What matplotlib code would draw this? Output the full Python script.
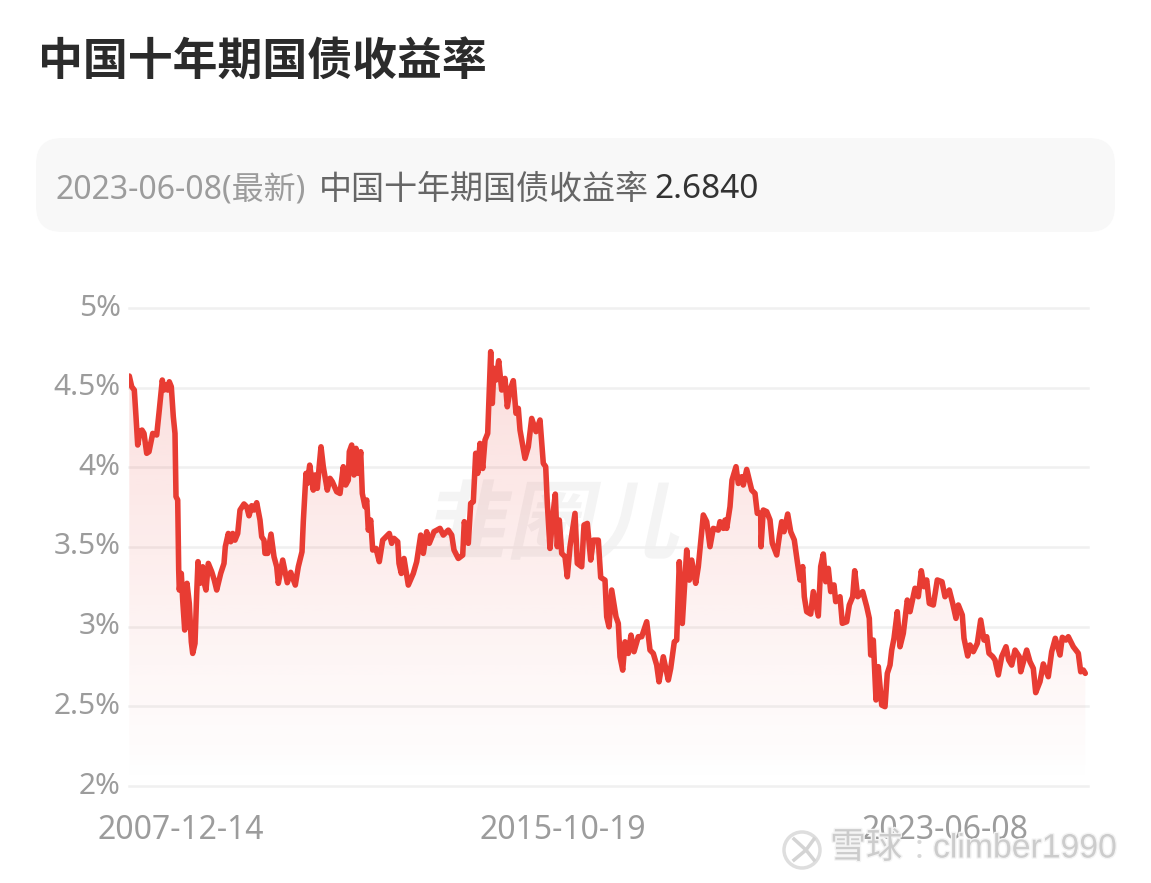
#!/usr/bin/env python

import numpy as np
import matplotlib
matplotlib.use('Agg')
import matplotlib.pyplot as plt
import matplotlib.patheffects as pe
from matplotlib.font_manager import FontProperties
from matplotlib.patches import Circle, FancyBboxPatch, PathPatch
from matplotlib.textpath import TextPath
from matplotlib.transforms import Affine2D

plt.rcParams['font.family'] = ['Noto Sans', 'Noto Sans CJK SC', 'DejaVu Sans']

W, H = 1151, 883

title = '中国十年期国债收益率'
latest_date = '2023-06-08(最新)'
latest_value = '2.6840'
y_ticks = [2, 2.5, 3, 3.5, 4, 4.5, 5]
y_labels = ['2%', '2.5%', '3%', '3.5%', '4%', '4.5%', '5%']
x_ticks = [52, 434, 816]
x_labels = ['2007-12-14', '2015-10-19', '2023-06-08']

# position along the axis and yield
obs = [0.3, 2.7, 5.3, 7, 8.7, 11, 13, 15, 17.7, 20, 23.7, 27.7, 30.3, 33.3, 35, 37, 38.7, 40.3, 42.3, 44.3,
       46, 47, 48.7, 49.7, 50.3, 52.3, 53.7, 55.7, 58, 60.3, 62.3, 63.7, 66, 67.7, 69, 71, 73.7, 75.3, 77, 79.3,
       82.7, 85.3, 87.7, 91.7, 95, 96.3, 99.3, 101.7, 103.7, 106, 108.7, 111, 115, 117.7, 120, 122.7, 125, 127.7, 131, 132.7,
       135, 136, 138.7, 142, 145, 147.7, 149.3, 153.7, 158.3, 161.7, 166.3, 169.3, 173, 174.3, 177, 178.3, 180.7, 184.3, 186, 188.3,
       190.3, 192, 194.3, 198.3, 201, 203.3, 207.7, 211, 214.3, 216.7, 219.3, 220.3, 222.7, 225, 227, 229.3, 231.7, 233.3, 236, 237.7,
       239.3, 241.7, 243.7, 247, 250.3, 253.7, 260.3, 262.7, 265, 268.7, 270, 272.3, 275, 279.3, 284.3, 287.7, 291.7, 294.3, 297.7, 300.3,
       305, 311, 314.3, 319.3, 322.7, 325, 329.3, 333.7, 335.3, 339.3, 341.7, 344.3, 346.7, 348.7, 351, 353.7, 356, 358.7, 361.7, 363.3,
       365, 367, 369.7, 372.7, 376, 378.3, 381, 384.3, 387, 389.3, 391, 396, 399.3, 402.7, 407, 411, 414.3, 416.7, 418.3, 421,
       423.7, 426.3, 428.3, 430.3, 432.7, 436, 438.3, 441, 446, 448.3, 452.7, 455, 458.3, 461.7, 464.3, 469.3, 471.7, 476, 477.7, 480,
       482.7, 487, 489.3, 491, 493.7, 496, 499.3, 502, 505, 509.3, 512.7, 517.7, 521, 524.3, 527.7, 530, 534.3, 539.3, 541.7, 545.3,
       547.7, 550.3, 553.3, 557.7, 560.3, 562.7, 566.7, 569.3, 574.3, 577.7, 581, 584.3, 589.3, 591, 594.3, 596, 597.7, 601, 603, 607,
       609.3, 612.7, 614.3, 617.7, 622.7, 626, 628.3, 631.7, 632, 634.3, 637.7, 641, 643.3, 647.7, 650.3, 652.7, 655, 658.7, 661.7, 665.3, 668.3, 671, 673.7, 675.3, 677.7,
       681.7, 684.3, 689.3, 691.7, 694.3, 696.7, 699.3, 701.7, 705, 706.7, 711, 713.3, 717.7, 720.3, 723.7, 725.7, 728.7, 733.7, 737.7, 740.3,
       741.7, 744.3, 747, 749.3, 752.7, 756, 758.3, 761, 762.7, 765, 768.3, 771, 774.3, 778.3, 781, 786, 789.3, 792.3, 795, 797.7,
       800.3, 804.3, 808.3, 813, 816, 820.3, 823.7, 827, 829.3, 833.3, 835, 838.7, 841, 844.3, 848.3, 851.7, 855, 857.7, 860, 863.7,
       866, 869.3, 872.7, 877, 879.7, 882.7, 886, 890.3, 891.7, 897.7, 901, 904.3, 906.7, 911, 914.3, 919.3, 922.7, 926.3, 931, 933.3,
       937, 939.3, 944.3, 949.3, 951.7, 954.3, 956.3]
yields = [4.573, 4.506, 4.485, 4.318, 4.140, 4.224, 4.234, 4.213, 4.088, 4.098, 4.213, 4.203, 4.360, 4.548, 4.485, 4.517, 4.485, 4.537, 4.506, 4.318,
          4.213, 3.816, 3.795, 3.355, 3.230, 3.334, 3.167, 2.979, 3.272, 3.146, 2.905, 2.832, 2.895, 3.209, 3.408, 3.272, 3.376, 3.272, 3.230, 3.397,
          3.345, 3.292, 3.230, 3.334, 3.397, 3.502, 3.585, 3.533, 3.585, 3.543, 3.585, 3.732, 3.770, 3.753, 3.696, 3.759, 3.732, 3.778, 3.669, 3.564,
          3.543, 3.460, 3.460, 3.581, 3.439, 3.376, 3.272, 3.418, 3.276, 3.341, 3.261, 3.376, 3.470, 3.659, 3.962, 3.899, 4.014, 3.857, 3.952, 3.868,
          4.014, 4.129, 4.004, 3.857, 3.931, 3.910, 3.847, 3.836, 4.004, 3.889, 3.920, 4.098, 4.140, 3.952, 4.119, 3.962, 4.098, 3.836, 3.753, 3.795,
          3.606, 3.669, 3.481, 3.491, 3.408, 3.543, 3.585, 3.523, 3.554, 3.533, 3.397, 3.334, 3.428, 3.261, 3.334, 3.408, 3.575, 3.460, 3.596, 3.523,
          3.596, 3.617, 3.575, 3.606, 3.575, 3.481, 3.428, 3.449, 3.659, 3.523, 3.774, 3.784, 4.088, 3.962, 4.150, 3.993, 4.171, 4.213, 4.726, 4.401,
          4.621, 4.548, 4.669, 4.485, 4.558, 4.380, 4.485, 4.544, 4.339, 4.370, 4.234, 4.056, 4.129, 4.307, 4.224, 4.297, 4.025, 4.004, 3.774, 3.491,
          3.690, 3.832, 3.502, 3.669, 3.460, 3.439, 3.313, 3.502, 3.711, 3.397, 3.376, 3.638, 3.648, 3.418, 3.543, 3.543, 3.309, 3.292, 3.062, 2.999,
          3.230, 3.062, 3.020, 2.811, 2.727, 2.905, 2.832, 2.947, 2.843, 2.937, 2.937, 3.031, 2.853, 2.832, 2.759, 2.654, 2.811, 2.665, 2.738, 2.905,
          2.916, 3.408, 3.020, 3.481, 3.292, 3.418, 3.272, 3.376, 3.701, 3.659, 3.502, 3.617, 3.606, 3.659, 3.617, 3.669, 3.617, 3.753, 3.920, 4.004,
          3.899, 3.941, 3.889, 3.987, 3.857, 3.836, 3.711, 3.711, 3.502, 3.732, 3.722, 3.670, 3.523, 3.450, 3.565, 3.659, 3.596, 3.707, 3.596, 3.544, 3.408, 3.293, 3.377, 3.188, 3.094,
          3.079, 3.220, 3.067, 3.377, 3.456, 3.282, 3.366, 3.220, 3.262, 3.157, 3.188, 3.021, 3.031, 3.136, 3.188, 3.351, 3.188, 3.220, 3.126, 3.052,
          2.822, 2.916, 2.540, 2.749, 2.508, 2.498, 2.707, 2.759, 2.853, 2.927, 3.094, 2.874, 2.958, 3.167, 3.094, 3.241, 3.188, 3.351, 3.251, 3.293,
          3.146, 3.136, 3.293, 3.282, 3.188, 3.230, 3.146, 3.052, 3.136, 3.073, 2.927, 2.816, 2.885, 2.843, 2.895, 3.042, 2.916, 2.937, 2.833, 2.812,
          2.791, 2.697, 2.812, 2.874, 2.791, 2.759, 2.853, 2.812, 2.717, 2.853, 2.780, 2.738, 2.586, 2.655, 2.766, 2.686, 2.843, 2.927, 2.822, 2.933,
          2.916, 2.937, 2.874, 2.833, 2.717, 2.728, 2.707]

RED = '#e83c33'
GREY = '#9c9c9c'

fig = plt.figure(figsize=(W / 100, H / 100), dpi=100, facecolor='white')

# page furniture in pixel coordinates
bg = fig.add_axes([0, 0, 1, 1], zorder=0)
bg.set_xlim(0, W)
bg.set_ylim(H, 0)
bg.axis('off')
bg.text(38, 63, title, fontsize=32.3, fontweight='bold', color='#2b2b2b', va='center', ha='left')
bg.add_patch(FancyBboxPatch((36, 138), 1079, 94, boxstyle='round,pad=0,rounding_size=26',
                            mutation_scale=1, facecolor='#f8f8f8', edgecolor='none'))
bg.text(56, 190, latest_date, fontsize=23, color=GREY, va='center', ha='left')
bg.text(319, 190, title, fontsize=23.8, color='#666666', va='center', ha='left')
bg.text(654, 190, latest_value, fontsize=24, color='#333333', va='center', ha='left')

# faint site mark behind the line
fp = FontProperties(family='Noto Sans CJK SC', weight='bold')
mark = TextPath((0, 0), '韭圈儿', size=86, prop=fp)
bg.add_patch(PathPatch(mark, facecolor='#f4f4f4', edgecolor='none',
                       transform=Affine2D().skew_deg(12, 0).translate(420, H - 552)))

ax = fig.add_axes([129 / W, 1 - 786 / H, 959 / W, 478 / H], zorder=1)
ax.patch.set_alpha(0)
for side in ax.spines.values():
    side.set_visible(False)

ax.set_yticks(y_ticks)
ax.set_yticklabels(y_labels, fontsize=21.5, color=GREY, fontweight='medium')
ax.set_xticks(x_ticks)
ax.set_xticklabels(x_labels, fontsize=23, color=GREY, fontweight='medium')
ax.tick_params(length=0)
ax.tick_params(axis='y', pad=6)
ax.tick_params(axis='x', pad=20)
for lab in ax.get_yticklabels():
    lab.set_transform(lab.get_transform() + Affine2D().translate(0, 3.5))
ax.grid(axis='y', color='#f0f0f0', linewidth=1.8)
for gl in ax.get_ygridlines():
    gl.set_clip_on(False)
ax.set_axisbelow(True)

# red wash under the line, fading towards the floor
shade = np.ones((256, 1, 4))
shade[:, :, :3] = matplotlib.colors.to_rgb(RED)
shade[:, 0, 3] = np.linspace(0.17, 0.0, 256)
area = ax.fill_between(obs, yields, 2, facecolor='none', edgecolor='none')
wash = ax.imshow(shade, extent=[0, 957, 2.0, max(yields)], aspect='auto', zorder=1.5)
wash.set_clip_path(area.get_paths()[0], ax.transData)

ax.plot(obs, yields, color=RED, linewidth=4, solid_joinstyle='round', solid_capstyle='round', zorder=3)
ax.set_xlim(0, 959)
ax.set_ylim(2, 5)

# uploader stamp, bottom right
stamp = [pe.withStroke(linewidth=2, foreground='#f4f4f4')]
top = fig.add_axes([0, 0, 1, 1], zorder=2)
top.set_xlim(0, W)
top.set_ylim(H, 0)
top.axis('off')
top.add_patch(Circle((802, 850), 18, facecolor='white', edgecolor='#dedede', linewidth=2.5))
top.plot([794, 806, 814], [839, 850, 860], color='#d4d4d4', linewidth=2.5)
top.plot([794, 806, 814], [860, 850, 839], color='#d4d4d4', linewidth=2.5)
top.text(830, 849, '雪球', fontsize=26, color='#cccccc', va='center', ha='left', path_effects=stamp)
top.text(915, 849, ':', fontsize=24, color='#d8d8d8', va='center', ha='left')
top.text(933, 849, 'climber1990', fontsize=24.3, family='Liberation Sans', color='#cccccc', va='center', ha='left',
         path_effects=stamp)

fig.savefig('out.png', dpi=100)
